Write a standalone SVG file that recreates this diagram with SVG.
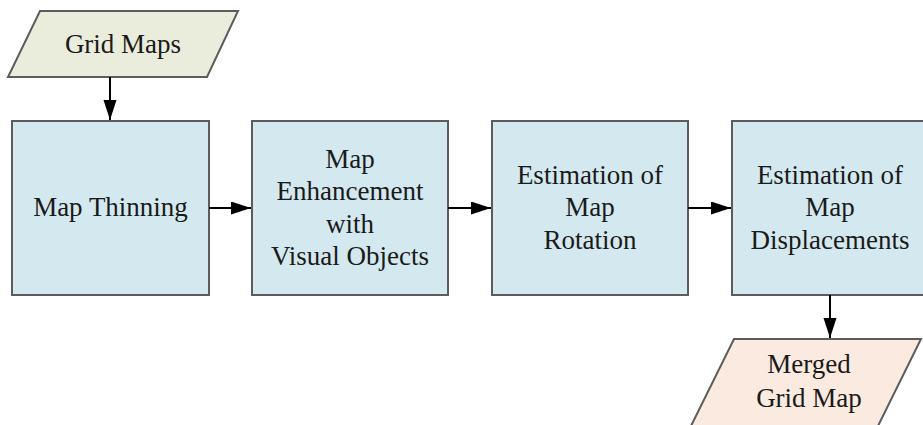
<svg xmlns="http://www.w3.org/2000/svg" width="923" height="425" viewBox="0 0 923 425">
  <defs>
    <style>
      .box { fill: #d3e9ef; stroke: #5c5c5c; stroke-width: 2; }
      .io-in { fill: #eaecdc; stroke: #5c5c5c; stroke-width: 2; }
      .io-out { fill: #fbeadf; stroke: #5c5c5c; stroke-width: 2; }
      .lbl { font-family: "Liberation Serif", "Times New Roman", serif; font-size: 27px; fill: #1a1a1a; text-anchor: middle; }
      .edge { fill: none; stroke: #000; stroke-width: 2; }
    </style>
    <marker id="arrow" markerUnits="userSpaceOnUse" markerWidth="20" markerHeight="14" refX="20" refY="6.5" orient="auto">
      <path d="M0,0 L20,6.5 L0,13 z" fill="#000"/>
    </marker>
  </defs>
  <rect width="923" height="425" fill="#fff"/>

  <g id="grid-maps">
    <polygon class="io-in" points="40,11 238,11 207,77 8,77"/>
    <text class="lbl" x="123" y="53">Grid Maps</text>
  </g>

  <g id="map-thinning">
    <rect class="box" x="12" y="121" width="197" height="174"/>
    <text class="lbl" x="110.5" y="216">Map Thinning</text>
  </g>

  <g id="map-enhancement">
    <rect class="box" x="252" y="121" width="196" height="174"/>
    <text class="lbl" x="350" y="167.5">Map</text>
    <text class="lbl" x="350" y="200">Enhancement</text>
    <text class="lbl" x="350" y="232.5">with</text>
    <text class="lbl" x="350" y="265">Visual Objects</text>
  </g>

  <g id="rotation-estimation">
    <rect class="box" x="492" y="121" width="196" height="174"/>
    <text class="lbl" x="590" y="183.5">Estimation of</text>
    <text class="lbl" x="590" y="216">Map</text>
    <text class="lbl" x="590" y="248.5">Rotation</text>
  </g>

  <g id="displacement-estimation">
    <rect class="box" x="732" y="121" width="196" height="174"/>
    <text class="lbl" x="830" y="183.5">Estimation of</text>
    <text class="lbl" x="830" y="216">Map</text>
    <text class="lbl" x="830" y="248.5">Displacements</text>
  </g>

  <g id="merged-grid-map">
    <polygon class="io-out" points="734,339 921,339 877,428 690,428"/>
    <text class="lbl" x="809" y="373">Merged</text>
    <text class="lbl" x="809" y="407">Grid Map</text>
  </g>

  <g id="connectors">
    <line class="edge" x1="110" y1="77" x2="110" y2="120" marker-end="url(#arrow)"/>
    <line class="edge" x1="209" y1="208" x2="251" y2="208" marker-end="url(#arrow)"/>
    <line class="edge" x1="448" y1="208" x2="491" y2="208" marker-end="url(#arrow)"/>
    <line class="edge" x1="688" y1="208" x2="731" y2="208" marker-end="url(#arrow)"/>
    <line class="edge" x1="830" y1="295" x2="830" y2="338" marker-end="url(#arrow)"/>
  </g>
</svg>
